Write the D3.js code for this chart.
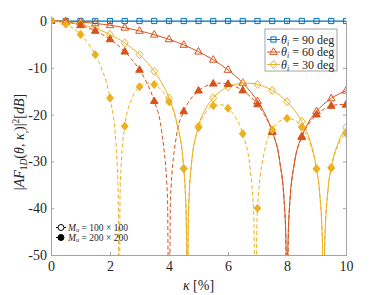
<!DOCTYPE html>
<html>
<head>
<meta charset="utf-8">
<script src="https://cdn.jsdelivr.net/npm/d3@7"></script>
<style>
body { margin: 0; background: #fff; }
text { font-family: "Liberation Serif", "DejaVu Serif", serif; fill: #262626; }
</style>
</head>
<body>
<svg id="chart" width="374" height="295"></svg>
<script>
// values (kappa in %, |AF|^2 in dB), nulls pushed below the axis
const kBlue = [0,0.5,1,1.5,2,2.5,3,3.5,4,4.5,5,5.5,6,6.5,7,7.5,8,8.5,9,9.5,10]
const dbBlue = [0,0,0,0,0,0,0,0,0,0,0,0,0,0,0,0,0,0,0,0,0]

const kRed100 = [0,0.25,0.5,0.75,1,1.25,1.5,1.75,2,2.25,2.5,2.75,3,3.25,3.5,3.75,4,4.25,4.5,4.75,5,5.25,5.5,5.75,6,6.25,6.5,6.75,7,7.25,7.5,7.75,7.9,7.97,8,8.03,8.1,8.25,8.5,8.75,9,9.25,9.5,9.75,10]
const dbRed100 = [0,0,-0.06,-0.13,-0.22,-0.35,-0.51,-0.7,-0.91,-1.16,-1.44,-1.76,-2.11,-2.5,-2.93,-3.4,-3.92,-4.49,-5.11,-5.8,-6.55,-7.38,-8.29,-9.31,-10.45,-11.75,-13.24,-15,-17.13,-19.83,-23.58,-29.84,-37.95,-48.5,-80,-48.55,-38.17,-30.38,-24.66,-21.46,-19.31,-17.74,-16.54,-15.61,-14.89]

const kRed200 = [0,0.25,0.5,0.75,1,1.25,1.5,1.75,2,2.25,2.5,2.75,3,3.25,3.5,3.75,3.95,4,4.05,4.25,4.5,4.75,5,5.25,5.5,5.75,6,6.25,6.5,6.75,7,7.25,7.5,7.75,7.95,8,8.05,8.25,8.5,8.75,9,9.25,9.5,9.75,10]
const dbRed200 = [0,-0.06,-0.22,-0.51,-0.91,-1.44,-2.11,-2.93,-3.92,-5.11,-6.55,-8.29,-10.45,-13.24,-17.13,-23.58,-37.95,-80,-38.17,-24.66,-19.31,-16.54,-14.89,-13.91,-13.4,-13.26,-13.46,-13.99,-14.85,-16.09,-17.81,-20.21,-23.75,-29.88,-44.03,-80,-44.14,-30.43,-24.83,-21.85,-20,-18.83,-18.14,-17.85,-17.9]

const kYel100 = [0,0.25,0.5,0.75,1,1.25,1.5,1.75,2,2.25,2.5,2.75,3,3.25,3.5,3.75,4,4.25,4.5,4.55,4.6,4.62,4.64,4.69,4.75,5,5.25,5.5,5.75,6,6.25,6.5,6.75,7,7.25,7.5,7.75,8,8.25,8.5,8.75,9,9.1,9.2,9.24,9.28,9.4,9.5,9.75,10]
const dbYel100 = [0,-0.04,-0.17,-0.38,-0.68,-1.07,-1.56,-2.16,-2.87,-3.7,-4.68,-5.83,-7.19,-8.8,-10.75,-13.2,-16.47,-21.32,-31.49,-36.26,-47.2,-80,-47.3,-36.53,-31.27,-22.48,-18.69,-16.44,-14.99,-14.06,-13.53,-13.29,-13.3,-13.56,-14.07,-14.82,-15.85,-17.24,-19.04,-21.47,-24.98,-31.57,-36.27,-47.24,-80,-47.31,-35.4,-31.3,-25.8,-22.77]

const kYel200 = [0,0.25,0.5,0.75,1,1.25,1.5,1.75,2,2.2,2.25,2.28,2.31,2.34,2.375,2.5,2.75,3,3.25,3.5,3.75,4,4.25,4.5,4.58,4.62,4.66,4.75,5,5.25,5.5,5.75,6,6.25,6.5,6.75,6.88,6.93,6.98,7,7.25,7.5,7.75,8,8.25,8.5,8.75,9,9.1,9.2,9.24,9.28,9.4,9.5,9.75,10]
const dbYel200 = [0,-0.17,-0.68,-1.56,-2.87,-4.68,-7.19,-10.75,-16.47,-26.06,-31.49,-37.62,-80,-37.84,-31.27,-22.48,-16.44,-14.06,-13.29,-13.56,-14.82,-17.24,-21.47,-31.57,-41.18,-80,-41.33,-31.3,-22.77,-19.51,-18.1,-17.87,-18.65,-20.54,-24.09,-31.56,-42.78,-80,-42.9,-40.02,-27.38,-23.25,-21.39,-20.79,-21.21,-22.7,-25.63,-31.62,-36.31,-47.24,-80,-47.31,-35.45,-31.44,-26.34,-23.99]

const xTicks = [0,2,4,6,8,10]
const yTicks = [0,-10,-20,-30,-40,-50]

const blue = "#0072BD", red = "#D95319", yel = "#EDB120"

const series = [
  {k: kBlue, v: dbBlue, color: blue, dash: null, marker: "square", filled: false},
  {k: kRed100, v: dbRed100, color: red, dash: null, marker: "triangle", filled: false},
  {k: kYel100, v: dbYel100, color: yel, dash: null, marker: "diamond", filled: false},
  {k: kRed200, v: dbRed200, color: red, dash: "4,2.5", marker: "triangle", filled: true},
  {k: kYel200, v: dbYel200, color: yel, dash: "4,2.5", marker: "diamond", filled: true}
]

const svg = d3.select("#chart")
const margin = {top: 21, right: 28, bottom: 40, left: 51}
const W = 374, H = 295
const x = d3.scaleLinear().domain([0, 10]).range([margin.left, W - margin.right])
const y = d3.scaleLinear().domain([-50, 0]).range([H - margin.bottom, margin.top])

svg.append("clipPath").attr("id", "plotclip")
  .append("rect").attr("x", x(0)).attr("y", y(0) - 6).attr("width", x(10) - x(0)).attr("height", y(-50) - y(0) + 6)

// axis box and inward ticks
const axisColor = "#a3a3a3"
const gx = svg.append("g").attr("transform", `translate(0,${y(-50)})`)
  .call(d3.axisBottom(x).tickValues(xTicks).tickSize(-3).tickPadding(6))
const gy = svg.append("g").attr("transform", `translate(${x(0)},0)`)
  .call(d3.axisLeft(y).tickValues(yTicks).tickSize(-3).tickPadding(4))
const gr = svg.append("g").attr("transform", `translate(${x(10)},0)`)
  .call(d3.axisRight(y).tickValues(yTicks).tickSize(-3).tickFormat(""))
const gt = svg.append("g").attr("transform", `translate(0,${y(0)})`)
  .call(d3.axisTop(x).tickValues(xTicks).tickSize(-3).tickFormat(""))
;[gx, gy, gr, gt].forEach(g => {
  g.selectAll("path.domain").attr("stroke", axisColor)
  g.selectAll(".tick line").attr("stroke", axisColor)
  g.selectAll("text").style("font-size", "14px").attr("fill", "#262626")
    .style("font-family", "'Liberation Serif', serif")
})
gy.selectAll(".tick text").text(d => d === 0 ? "0" : "-" + Math.abs(d))

const line = d3.line().x(d => x(d[0])).y(d => y(d[1])).curve(d3.curveMonotoneX)

function markerPath(type) {
  if (type === "square") return "M-2.6,-2.6h5.2v5.2h-5.2z"
  if (type === "triangle") return "M0,-4.2L3.8,2.4L-3.8,2.4z"
  if (type === "diamond") return "M0,-4L3.4,0L0,4L-3.4,0z"
  return d3.symbol(d3.symbolCircle, 30)()
}

const plot = svg.append("g").attr("clip-path", "url(#plotclip)")

series.forEach(s => {
  const pts = s.k.map((k, i) => [k, s.v[i]])
  plot.append("path")
    .datum(pts)
    .attr("fill", "none")
    .attr("stroke", s.color)
    .attr("stroke-width", 1)
    .attr("stroke-dasharray", s.dash)
    .attr("d", line)
})

series.forEach(s => {
  const pts = s.k.map((k, i) => [k, s.v[i]])
    .filter(d => Math.abs(d[0] * 2 - Math.round(d[0] * 2)) < 1e-9 && d[1] >= -50)
  plot.selectAll(null)
    .data(pts)
    .join("path")
    .attr("transform", d => `translate(${x(d[0])},${y(d[1])})`)
    .attr("d", markerPath(s.marker))
    .attr("fill", s.filled ? s.color : "none")
    .attr("stroke", s.color)
    .attr("stroke-width", 1)
})

// top-right legend
const leg = svg.append("g")
leg.append("rect").attr("x", 265).attr("y", 29).attr("width", 72).attr("height", 42)
  .attr("fill", "#fff").attr("stroke", axisColor).attr("stroke-width", 1)
const legItems = [
  {color: blue, marker: "square", label: "90"},
  {color: red, marker: "triangle", label: "60"},
  {color: yel, marker: "diamond", label: "30"}
]
legItems.forEach((d, i) => {
  const cy = 39.5 + i * 12.5
  leg.append("line").attr("x1", 267).attr("x2", 280).attr("y1", cy).attr("y2", cy)
    .attr("stroke", d.color).attr("stroke-width", 1)
  leg.append("path").attr("transform", `translate(273.5,${cy})`).attr("d", markerPath(d.marker))
    .attr("fill", "none").attr("stroke", d.color)
  const t = leg.append("text").attr("x", 281).attr("y", cy + 4).style("font-size", "12px")
  t.append("tspan").style("font-style", "italic").text("θ")
  t.append("tspan").style("font-style", "italic").style("font-size", "8px").attr("dy", 2).text("i")
  t.append("tspan").attr("dy", -2).text(" = " + d.label + " deg")
})

// bottom-left legend (array size)
const leg2 = svg.append("g")
const sizeItems = [
  {filled: false, label: "100 × 100", dash: null},
  {filled: true, label: "200 × 200", dash: "3,2"}
]
sizeItems.forEach((d, i) => {
  const cy = 227.5 + i * 10
  leg2.append("line").attr("x1", 56).attr("x2", 66).attr("y1", cy).attr("y2", cy)
    .attr("stroke", "#000").attr("stroke-width", 1).attr("stroke-dasharray", d.dash)
  leg2.append("circle").attr("cx", 61).attr("cy", cy).attr("r", 3)
    .attr("fill", d.filled ? "#000" : "#fff").attr("stroke", "#000")
  const t = leg2.append("text").attr("x", 68).attr("y", cy + 3).style("font-size", "9.5px")
  t.append("tspan").style("font-style", "italic").text("M")
  t.append("tspan").style("font-style", "italic").style("font-size", "6.5px").attr("dy", 1.5).text("u")
  t.append("tspan").attr("dy", -1.5).text(" = " + d.label)
})

// axis labels
const xl = svg.append("text").attr("x", (x(0) + x(10)) / 2).attr("y", 290)
  .attr("text-anchor", "middle").style("font-size", "14px")
xl.append("tspan").style("font-style", "italic").text("κ")
xl.append("tspan").text(" [%]")

const yl = svg.append("text").attr("transform", `translate(24,${(y(0) + y(-50)) / 2 + 4}) rotate(-90)`)
  .attr("text-anchor", "middle").style("font-size", "14px")
yl.append("tspan").text("|")
yl.append("tspan").style("font-style", "italic").text("AF")
yl.append("tspan").style("font-size", "9.5px").attr("dy", 3).text("1")
yl.append("tspan").style("font-size", "9.5px").style("font-style", "italic").text("D")
yl.append("tspan").attr("dy", -3).text("(")
yl.append("tspan").style("font-style", "italic").text("θ")
yl.append("tspan").text(", ")
yl.append("tspan").style("font-style", "italic").text("κ")
yl.append("tspan").style("font-size", "9.5px").attr("dy", 3).text(",")
yl.append("tspan").attr("dy", -3).text(")|")
yl.append("tspan").style("font-size", "9.5px").attr("dy", -5).text("2")
yl.append("tspan").attr("dy", 5).text("[")
yl.append("tspan").style("font-style", "italic").text("dB")
yl.append("tspan").text("]")
</script>
</body>
</html>
